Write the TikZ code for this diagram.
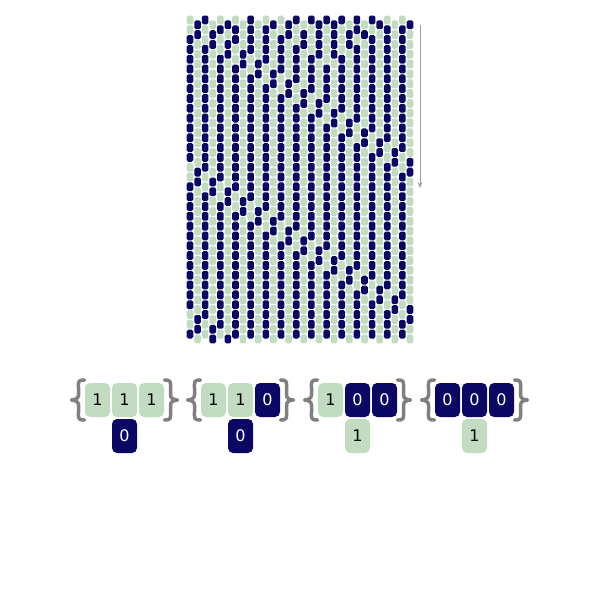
\documentclass[tikz,border=0pt]{standalone}
\usepackage{fontspec}
\setmainfont{DejaVu Sans}
\usetikzlibrary{arrows.meta}
\definecolor{cgreen}{RGB}{193,220,193}
\definecolor{cdark}{RGB}{10,8,100}
\definecolor{cgray}{RGB}{128,128,128}
\definecolor{carrow}{RGB}{160,160,160}
\newcommand\updcell[1]{%
  \pgfmathtruncatemacro\kl{mod(#1+29,30)}%
  \pgfmathtruncatemacro\kr{mod(#1+1,30)}%
  \ifnum\numexpr\csname st\kl\endcsname+\csname st#1\endcsname+\csname st\kr\endcsname\relax<2
    \expandafter\xdef\csname st#1\endcsname{1}%
  \else
    \expandafter\xdef\csname st#1\endcsname{0}%
  \fi}
\newcommand\bracel[1]{\draw[bracestyle] (#1+6,380) .. controls (#1-1,380) and (#1,382) .. (#1,388) -- (#1,395) .. controls (#1,398) and (#1-3,400) .. (#1-7,400) .. controls (#1-3,400) and (#1,402) .. (#1,405) -- (#1,412) .. controls (#1,418) and (#1-1,420) .. (#1+6,420);}
\newcommand\bracer[1]{\draw[bracestyle] (#1-6,380) .. controls (#1+1,380) and (#1,382) .. (#1,388) -- (#1,395) .. controls (#1,398) and (#1+3,400) .. (#1+7,400) .. controls (#1+3,400) and (#1,402) .. (#1,405) -- (#1,412) .. controls (#1,418) and (#1+1,420) .. (#1-6,420);}
\tikzset{
  gcell/.style={fill=cgreen, rounded corners=5pt, minimum width=25pt, minimum height=34pt, inner sep=0pt, text=black, font=\fontsize{16}{16}\selectfont},
  dcell/.style={gcell, fill=cdark, text=white},
  bracestyle/.style={draw=cgray, line width=3.5pt, line cap=round, line join=round},
  arrowstyle/.style={draw=carrow, line width=1pt, -{Stealth[length=6pt,width=5pt]}}
}
\begin{document}
\begin{tikzpicture}[x=1pt,y=-1pt]
\useasboundingbox (0,0) rectangle (600,600);
% initial row
\foreach \k/\v in {0/0,1/1,2/1,3/0,4/0,5/1,6/0,7/0,8/1,9/0,10/0,11/1,12/0,13/1,14/1,15/0,16/1,17/1,18/1,19/1,20/1,21/0,22/1,23/0,24/1,25/1,26/0,27/0,28/0,29/1}{\expandafter\xdef\csname st\k\endcsname{\v}}
\foreach \n in {0,...,32}{
  \foreach \k in {0,...,29}{
    \pgfmathsetmacro\xx{190+7.586*\k}
    \pgfmathsetmacro\yy{19.9+9.82*\n+4.91*mod(\k,2)}
    \ifnum\csname st\k\endcsname=1 \def\cc{cdark}\else\def\cc{cgreen}\fi
    \fill[\cc,rounded corners=1.6pt] (\xx-3.3,\yy-4.4) rectangle (\xx+3.3,\yy+4.4);
  }
  \foreach \k in {0,2,...,28}{\updcell{\k}}
  \foreach \k in {1,3,...,29}{\updcell{\k}}
}
\coordinate (arrS) at (420,25);
\coordinate (arrE) at (420,188);
\draw[arrowstyle] (arrS) -- (arrE);
% legend
\foreach \c/\a/\b/\d/\r [count=\i] in {124.5/1/1/1/0, 240.5/1/1/0/0, 357.5/1/0/0/1, 474.5/0/0/0/1}{
  \ifnum\a=1 \def\sa{gcell}\else\def\sa{dcell}\fi
  \ifnum\b=1 \def\sb{gcell}\else\def\sb{dcell}\fi
  \ifnum\d=1 \def\sd{gcell}\else\def\sd{dcell}\fi
  \ifnum\r=1 \def\sr{gcell}\else\def\sr{dcell}\fi
  \node[\sa] (l\i a) at (\c-27,400) {\a};
  \node[\sb] (l\i b) at (\c,400) {\b};
  \node[\sd] (l\i c) at (\c+27,400) {\d};
  \node[\sr] (l\i r) at (\c,436) {\r};
  \bracel{\c-46}
  \bracer{\c+46}
}
\end{tikzpicture}
\end{document}
